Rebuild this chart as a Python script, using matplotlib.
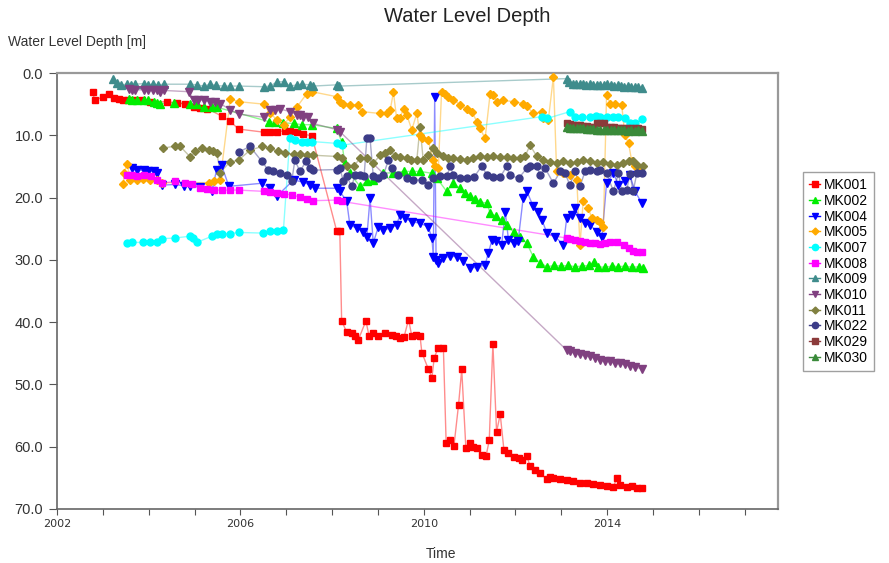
import matplotlib
matplotlib.use("Agg")
import matplotlib.pyplot as plt
from matplotlib.lines import Line2D

# ---------------- data (year, depth in m) ----------------
mk001_t = [2002.78, 2002.82, 2003.00, 2003.14, 2003.24, 2003.35, 2003.45, 2003.55, 2003.70, 2003.85,
           2004.03, 2004.40, 2004.62, 2004.79, 2004.98, 2005.12, 2005.27, 2005.59, 2005.77, 2005.96,
           2006.51, 2006.65, 2006.80, 2006.97, 2007.08, 2007.24, 2007.37, 2007.56, 2008.10, 2008.17,
           2008.21, 2008.32, 2008.43, 2008.50, 2008.57, 2008.74, 2008.81, 2008.90, 2009.01, 2009.16,
           2009.30, 2009.40, 2009.48, 2009.57, 2009.67, 2009.74, 2009.83, 2009.92, 2009.96, 2010.10,
           2010.18, 2010.23, 2010.32, 2010.43, 2010.49, 2010.58, 2010.66, 2010.76, 2010.83, 2010.92,
           2011.01, 2011.08, 2011.16, 2011.27, 2011.36, 2011.43, 2011.51, 2011.59, 2011.67, 2011.75,
           2011.85, 2011.96, 2012.07, 2012.14, 2012.25, 2012.32, 2012.43, 2012.54, 2012.69, 2012.76,
           2012.83, 2012.98, 2013.12, 2013.26, 2013.41, 2013.56, 2013.70, 2013.85, 2013.99, 2014.14,
           2014.21, 2014.28, 2014.43, 2014.54, 2014.65, 2014.76]
mk001_d = [3.1, 4.3, 3.9, 3.4, 4.0, 4.2, 4.3, 4.4, 4.3, 4.4,
           4.6, 4.6, 4.8, 5.0, 5.4, 5.6, 5.7, 6.9, 7.7, 9.0,
           9.5, 9.4, 9.4, 9.3, 9.3, 9.4, 9.8, 10.1, 25.3, 25.4,
           39.8, 41.6, 41.8, 42.2, 42.9, 39.8, 42.3, 41.7, 42.3, 41.7,
           42.1, 42.3, 42.6, 42.4, 39.6, 42.2, 42.1, 42.2, 44.9, 47.5,
           48.9, 45.7, 44.1, 44.2, 59.4, 58.9, 59.9, 53.3, 47.6, 60.2,
           59.4, 60.0, 60.2, 61.3, 61.5, 59.0, 43.5, 57.6, 54.8, 60.5,
           61.0, 61.6, 61.8, 62.1, 61.5, 63.1, 63.7, 64.3, 65.2, 64.9,
           65.1, 65.2, 65.4, 65.5, 65.9, 65.8, 66.0, 66.1, 66.3, 66.4,
           65.1, 66.1, 66.5, 66.3, 66.7, 66.7]

mk002_t = [2003.56, 2003.64, 2003.75, 2003.89, 2003.99, 2004.11, 2004.18, 2004.25, 2004.55, 2004.91,
           2005.05, 2005.20, 2005.38, 2005.49, 2006.62, 2006.76, 2006.93, 2007.16, 2007.34, 2007.56,
           2008.10, 2008.21, 2008.28, 2008.39, 2008.61, 2008.76, 2008.90, 2009.12, 2009.33, 2009.56,
           2009.75, 2009.92, 2010.18, 2010.29, 2010.50, 2010.65, 2010.79, 2010.90, 2011.01, 2011.12,
           2011.23, 2011.38, 2011.45, 2011.58, 2011.70, 2011.81, 2011.96, 2012.10, 2012.25, 2012.39,
           2012.54, 2012.69, 2012.85, 2013.00, 2013.15, 2013.30, 2013.45, 2013.60, 2013.72, 2013.80,
           2013.95, 2014.10, 2014.25, 2014.40, 2014.55, 2014.70, 2014.78]
mk002_d = [4.2, 4.4, 4.3, 4.3, 4.4, 4.6, 4.8, 4.9, 4.8, 4.9,
           5.0, 5.4, 5.4, 5.5, 7.8, 7.9, 8.0, 8.1, 8.3, 8.3,
           8.9, 11.0, 14.5, 16.1, 18.2, 17.4, 17.2, 16.1, 16.0, 15.8,
           15.8, 15.8, 16.1, 16.9, 19.0, 17.7, 18.5, 19.2, 19.8, 20.3,
           20.7, 20.9, 22.5, 23.0, 23.6, 24.4, 25.5, 26.3, 27.3, 29.5,
           30.5, 31.1, 30.9, 31.0, 30.9, 31.1, 31.0, 30.9, 30.3, 31.1,
           31.2, 31.0, 31.1, 31.0, 31.2, 31.1, 31.3]

mk004_t = [2003.64, 2003.75, 2003.89, 2003.99, 2004.11, 2004.18, 2004.29, 2004.57, 2004.76, 2004.91,
           2005.12, 2005.38, 2005.48, 2005.59, 2005.75, 2006.47, 2006.65, 2006.79, 2007.16, 2007.37,
           2007.52, 2007.63, 2008.10, 2008.17, 2008.32, 2008.39, 2008.54, 2008.68, 2008.76, 2008.83,
           2008.90, 2009.01, 2009.12, 2009.27, 2009.41, 2009.48, 2009.59, 2009.74, 2009.92, 2010.10,
           2010.18, 2010.21, 2010.24, 2010.27, 2010.32, 2010.43, 2010.58, 2010.72, 2010.86, 2011.01,
           2011.16, 2011.34, 2011.41, 2011.49, 2011.58, 2011.70, 2011.78, 2011.85, 2011.96, 2012.06,
           2012.17, 2012.25, 2012.39, 2012.50, 2012.58, 2012.69, 2012.87, 2013.05, 2013.12, 2013.23,
           2013.30, 2013.41, 2013.52, 2013.63, 2013.78, 2013.89, 2013.99, 2014.14, 2014.25, 2014.39,
           2014.50, 2014.61, 2014.76]
mk004_d = [15.3, 15.6, 15.6, 15.7, 15.8, 16.1, 18.0, 17.9, 18.1, 18.2,
           18.3, 19.0, 15.6, 14.8, 18.2, 17.7, 18.5, 19.8, 17.2, 17.5,
           18.0, 18.5, 18.5, 19.0, 20.6, 24.4, 24.9, 25.5, 26.3, 20.1,
           27.3, 24.7, 25.2, 24.9, 24.4, 22.8, 23.3, 23.9, 24.1, 24.7,
           26.5, 29.5, 3.9, 30.0, 30.5, 29.7, 29.4, 29.5, 30.2, 31.3,
           31.2, 30.8, 28.9, 26.8, 26.9, 27.6, 22.3, 26.8, 27.3, 27.0,
           20.1, 19.0, 21.4, 22.3, 23.6, 25.7, 26.3, 27.6, 23.3, 22.8,
           21.7, 23.3, 24.1, 24.4, 25.5, 26.3, 17.7, 16.1, 18.0, 17.4,
           16.4, 19.0, 20.9]

mk005_t = [2003.45, 2003.46, 2003.53, 2003.60, 2003.75, 2003.88, 2004.03, 2004.18, 2004.29, 2005.31,
           2005.42, 2005.56, 2005.78, 2005.96, 2006.51, 2006.65, 2006.80, 2006.95, 2007.09, 2007.24,
           2007.45, 2007.56, 2008.10, 2008.17, 2008.25, 2008.39, 2008.57, 2008.65, 2009.05, 2009.19,
           2009.27, 2009.34, 2009.41, 2009.48, 2009.56, 2009.63, 2009.74, 2009.85, 2009.92, 2009.96,
           2010.10, 2010.21, 2010.25, 2010.32, 2010.39, 2010.47, 2010.54, 2010.65, 2010.79, 2010.94,
           2011.05, 2011.16, 2011.23, 2011.34, 2011.45, 2011.52, 2011.59, 2011.74, 2011.96, 2012.17,
           2012.25, 2012.39, 2012.58, 2012.61, 2012.72, 2012.83, 2012.90, 2013.04, 2013.19, 2013.34,
           2013.41, 2013.48, 2013.59, 2013.67, 2013.78, 2013.85, 2013.92, 2013.99, 2014.07, 2014.18,
           2014.32, 2014.39, 2014.47, 2014.54, 2014.61, 2014.72]
mk005_d = [17.9, 16.1, 14.6, 17.2, 17.2, 17.0, 17.1, 17.2, 17.6, 17.6,
           17.4, 17.2, 4.2, 4.6, 5.0, 6.5, 7.5, 8.3, 7.0, 5.4,
           3.3, 3.0, 3.8, 4.6, 4.9, 5.1, 5.1, 6.2, 6.5, 6.5,
           5.9, 3.1, 7.3, 7.3, 5.7, 6.7, 9.1, 6.5, 10.0, 10.5,
           10.8, 14.0, 15.0, 15.3, 3.0, 3.3, 3.8, 4.3, 5.1, 5.8,
           6.2, 7.8, 8.9, 10.5, 3.3, 3.5, 4.6, 4.4, 4.6, 4.9,
           5.3, 6.5, 6.2, 7.3, 7.5, 0.6, 15.8, 16.0, 16.4, 17.2,
           27.6, 20.6, 21.7, 23.3, 23.6, 23.9, 24.7, 3.5, 4.9, 4.9,
           5.1, 10.0, 11.3, 14.2, 15.0, 15.8]

mk007_t = [2003.52, 2003.63, 2003.88, 2004.03, 2004.18, 2004.28, 2004.57, 2004.90, 2004.97, 2005.05,
           2005.38, 2005.48, 2005.59, 2005.77, 2005.96, 2006.49, 2006.65, 2006.79, 2006.94, 2007.08,
           2007.19, 2007.34, 2007.45, 2007.56, 2008.10, 2008.21, 2012.58, 2012.69, 2013.19, 2013.30,
           2013.46, 2013.63, 2013.76, 2013.85, 2014.00, 2014.14, 2014.25, 2014.39, 2014.50, 2014.61,
           2014.76]
mk007_d = [27.3, 27.2, 27.2, 27.2, 27.1, 26.6, 26.5, 26.2, 26.5, 27.2,
           26.2, 25.9, 25.8, 25.8, 25.6, 25.7, 25.3, 25.3, 25.2, 10.5,
           10.8, 11.0, 11.0, 11.0, 11.3, 11.6, 7.0, 7.3, 6.2, 7.0,
           7.1, 7.0, 6.9, 7.0, 7.1, 7.0, 7.0, 7.3, 8.1, 8.1,
           7.4]

mk008_t = [2003.53, 2003.64, 2003.75, 2003.89, 2004.04, 2004.18, 2004.29, 2004.58, 2004.79, 2004.95,
           2005.13, 2005.27, 2005.42, 2005.60, 2005.78, 2005.96, 2006.51, 2006.65, 2006.80, 2006.95,
           2007.13, 2007.30, 2007.45, 2007.59, 2008.10, 2008.21, 2013.12, 2013.19, 2013.30, 2013.41,
           2013.52, 2013.63, 2013.74, 2013.85, 2013.96, 2014.07, 2014.21, 2014.36, 2014.47, 2014.57,
           2014.66, 2014.76]
mk008_d = [16.4, 16.3, 16.5, 16.4, 16.6, 17.2, 17.7, 17.4, 17.6, 17.8,
           18.5, 18.6, 18.8, 18.8, 18.8, 18.8, 19.0, 19.1, 19.3, 19.4,
           19.6, 19.9, 20.2, 20.5, 20.4, 20.6, 26.5, 26.7, 26.8, 26.9,
           27.1, 27.3, 27.3, 27.4, 27.3, 27.2, 27.1, 27.6, 28.1, 28.5,
           28.7, 28.8]

mk009_t = [2003.22, 2003.31, 2003.40, 2003.53, 2003.61, 2003.71, 2003.89, 2003.99, 2004.09, 2004.20,
           2004.33, 2004.91, 2005.05, 2005.20, 2005.34, 2005.47, 2005.64, 2005.78, 2005.96, 2006.51,
           2006.65, 2006.80, 2006.95, 2007.09, 2007.24, 2007.34, 2007.52, 2007.59, 2008.10, 2008.16,
           2013.12, 2013.18, 2013.25, 2013.32, 2013.40, 2013.47, 2013.55, 2013.62, 2013.70, 2013.78,
           2013.85, 2013.93, 2014.00, 2014.08, 2014.15, 2014.23, 2014.30, 2014.38, 2014.45, 2014.53,
           2014.60, 2014.68, 2014.76]
mk009_d = [1.0, 1.6, 1.9, 1.8, 1.9, 1.8, 1.7, 1.9, 1.8, 1.9,
           1.8, 1.8, 1.9, 2.1, 1.8, 2.0, 2.1, 2.1, 2.1, 2.2,
           2.1, 1.4, 1.4, 2.1, 1.9, 1.8, 1.9, 2.1, 1.9, 2.1,
           0.9, 1.5, 1.7, 1.8, 1.7, 1.8, 1.9, 1.8, 1.9, 2.0,
           1.9, 2.0, 1.7, 2.0, 2.1, 2.0, 2.1, 2.2, 2.1, 2.2,
           2.3, 2.2, 2.4]

mk010_t = [2003.56, 2003.64, 2003.71, 2003.89, 2003.99, 2004.09, 2004.18, 2004.25, 2004.33, 2004.87,
           2004.98, 2005.08, 2005.20, 2005.34, 2005.45, 2005.56, 2005.78, 2005.96, 2006.51, 2006.65,
           2006.76, 2006.87, 2007.09, 2007.24, 2007.30, 2007.37, 2007.48, 2007.59, 2008.10, 2008.17,
           2013.12, 2013.19, 2013.30, 2013.41, 2013.52, 2013.63, 2013.74, 2013.85, 2013.96, 2014.07,
           2014.18, 2014.28, 2014.39, 2014.50, 2014.61, 2014.76]
mk010_d = [2.6, 2.8, 2.7, 2.7, 2.8, 2.8, 2.8, 3.0, 2.8, 3.0,
           4.3, 4.4, 4.3, 4.6, 4.7, 4.9, 5.9, 6.6, 7.1, 5.9,
           5.9, 5.8, 6.2, 6.7, 6.7, 7.0, 7.0, 8.1, 9.1, 9.4,
           44.5, 44.7, 44.9, 45.1, 45.3, 45.5, 45.8, 46.0, 46.2, 46.3,
           46.5, 46.6, 46.8, 47.0, 47.2, 47.5]

mk011_t = [2004.31, 2004.58, 2004.69, 2004.91, 2005.02, 2005.16, 2005.31, 2005.40, 2005.49, 2005.56,
           2005.77, 2005.96, 2006.21, 2006.47, 2006.65, 2006.83, 2006.97, 2007.16, 2007.30, 2007.45,
           2007.59, 2008.10, 2008.21, 2008.32, 2008.47, 2008.61, 2008.76, 2008.90, 2009.05, 2009.16,
           2009.27, 2009.38, 2009.48, 2009.63, 2009.72, 2009.85, 2009.92, 2009.99, 2010.10, 2010.21,
           2010.29, 2010.43, 2010.53, 2010.65, 2010.79, 2010.94, 2011.08, 2011.23, 2011.38, 2011.52,
           2011.67, 2011.81, 2011.95, 2012.10, 2012.21, 2012.32, 2012.47, 2012.60, 2012.76, 2012.91,
           2013.04, 2013.19, 2013.35, 2013.48, 2013.63, 2013.78, 2013.91, 2014.07, 2014.22, 2014.35,
           2014.48, 2014.57, 2014.66, 2014.79]
mk011_d = [12.1, 11.7, 11.8, 13.5, 12.6, 12.1, 12.4, 12.6, 12.9, 16.0,
           14.3, 14.0, 12.4, 11.8, 12.1, 12.6, 12.9, 13.0, 13.0, 13.2,
           13.2, 13.4, 13.7, 15.0, 15.0, 13.7, 13.7, 14.5, 13.2, 12.9,
           12.4, 13.4, 13.5, 13.7, 13.9, 14.0, 8.6, 14.0, 13.2, 12.1,
           12.9, 13.4, 13.6, 13.7, 13.8, 13.9, 13.6, 13.4, 13.5, 13.4,
           13.5, 13.5, 13.6, 13.7, 13.4, 11.6, 13.4, 14.0, 14.3, 14.4,
           14.2, 14.5, 14.3, 14.0, 14.2, 14.4, 14.3, 14.6, 14.7, 14.5,
           14.2, 14.2, 14.8, 15.0]

mk022_t = [2005.96, 2006.21, 2006.47, 2006.61, 2006.72, 2006.87, 2007.01, 2007.12, 2007.19, 2007.30,
           2007.43, 2007.52, 2007.59, 2008.10, 2008.17, 2008.25, 2008.32, 2008.43, 2008.50, 2008.61,
           2008.70, 2008.76, 2008.83, 2008.90, 2009.00, 2009.12, 2009.23, 2009.30, 2009.45, 2009.63,
           2009.77, 2009.96, 2010.10, 2010.21, 2010.36, 2010.50, 2010.58, 2010.65, 2010.79, 2010.94,
           2011.10, 2011.27, 2011.38, 2011.52, 2011.67, 2011.81, 2011.88, 2012.07, 2012.25, 2012.32,
           2012.47, 2012.54, 2012.65, 2012.83, 2012.98, 2013.08, 2013.19, 2013.30, 2013.41, 2013.52,
           2013.63, 2013.78, 2013.85, 2013.99, 2014.14, 2014.25, 2014.32, 2014.43, 2014.50, 2014.57,
           2014.65, 2014.76]
mk022_d = [12.7, 11.8, 14.2, 15.6, 15.8, 16.1, 16.4, 17.4, 14.0, 15.8,
           14.2, 15.3, 15.6, 15.5, 15.3, 17.4, 16.6, 18.2, 16.4, 16.4,
           16.6, 10.5, 10.5, 16.6, 16.9, 16.4, 14.0, 15.3, 16.4, 16.8,
           17.2, 17.2, 18.0, 16.9, 16.6, 16.6, 15.0, 16.4, 16.9, 16.9,
           16.7, 14.9, 16.4, 16.7, 16.7, 15.0, 16.4, 16.9, 15.3, 14.9,
           15.0, 16.4, 15.3, 17.7, 15.8, 16.0, 18.0, 15.8, 18.2, 15.8,
           15.6, 15.7, 15.6, 16.1, 19.0, 16.1, 19.0, 18.8, 16.2, 19.0,
           16.1, 16.1]

mk029_t = [2013.12, 2013.19, 2013.26, 2013.34, 2013.41, 2013.48, 2013.56, 2013.63, 2013.70, 2013.78,
           2013.85, 2013.93, 2014.00, 2014.08, 2014.15, 2014.23, 2014.30, 2014.38, 2014.45, 2014.53,
           2014.60, 2014.68, 2014.76]
mk029_d = [8.1, 8.2, 8.3, 8.4, 8.4, 8.5, 8.5, 8.6, 8.6, 8.1,
           8.0, 8.1, 8.6, 8.7, 8.7, 8.8, 8.8, 8.9, 8.9, 8.8,
           8.9, 8.9, 9.0]

mk030_t = [2013.12, 2013.19, 2013.26, 2013.34, 2013.41, 2013.48, 2013.56, 2013.63, 2013.70, 2013.78,
           2013.85, 2013.93, 2014.00, 2014.08, 2014.15, 2014.23, 2014.30, 2014.38, 2014.45, 2014.53,
           2014.60, 2014.68, 2014.76]
mk030_d = [8.6, 8.8, 8.8, 8.9, 8.9, 8.9, 9.0, 9.0, 9.0, 9.1,
           9.1, 9.1, 9.1, 9.2, 9.2, 9.2, 9.2, 9.2, 9.3, 9.2,
           9.3, 9.2, 9.3]

series_names = ["MK001", "MK002", "MK004", "MK005", "MK007", "MK008",
                "MK009", "MK010", "MK011", "MK022", "MK029", "MK030"]
x_ticks = [2002, 2006, 2010, 2014]
y_ticks = [0, 10, 20, 30, 40, 50, 60, 70]

# ---------------- styling ----------------
series = [
    (mk001_t, mk001_d, "#FF0000", "s", 5.0),
    (mk002_t, mk002_d, "#00EE00", "^", 5.5),
    (mk004_t, mk004_d, "#0000FF", "v", 5.5),
    (mk005_t, mk005_d, "#FFAA00", "D", 4.0),
    (mk007_t, mk007_d, "#00FFFF", "o", 5.0),
    (mk008_t, mk008_d, "#FF00FF", "s", 5.0),
    (mk009_t, mk009_d, "#3F8C8C", "^", 5.5),
    (mk010_t, mk010_d, "#804080", "v", 5.5),
    (mk011_t, mk011_d, "#808040", "D", 4.0),
    (mk022_t, mk022_d, "#3C3C88", "o", 5.0),
    (mk029_t, mk029_d, "#8B3A3A", "s", 5.0),
    (mk030_t, mk030_d, "#3A8A3A", "^", 5.5),
]

fig = plt.figure(figsize=(8.89, 5.63), dpi=100)
ax = fig.add_axes([57 / 889, 1 - 509 / 563, (778 - 57) / 889, (509 - 73) / 563])

handles = []
for name, (t, d, c, m, ms) in zip(series_names, series):
    ax.plot(t, d, "-", color=c, alpha=0.45, lw=1.0, zorder=2)
    ax.plot(t, d, linestyle="none", marker=m, color=c, ms=ms, mec=c, zorder=3)
    handles.append(Line2D([0], [0], color=c, marker=m, ms=ms - 0.5, lw=1.0))

ax.set_xlim(2002, 2017.73)
ax.set_ylim(70, 0)
ax.set_xticks(x_ticks)
ax.set_xticks(list(range(2002, 2018)), minor=True)
ax.set_xticklabels([str(v) for v in x_ticks], fontsize=8,
                   family=["Liberation Sans Narrow", "DejaVu Sans"])
ax.set_yticks(y_ticks)
ax.set_yticklabels([f"{v:.1f}" for v in y_ticks], fontsize=10.5,
                   family=["Liberation Sans", "DejaVu Sans"])
ax.tick_params(axis="x", which="both", direction="out", length=4, width=0.8, color="#555555", pad=3)
ax.tick_params(axis="y", which="both", direction="out", length=6, width=0.8, color="#555555", pad=4)
ax.tick_params(axis="y", labelcolor="#333333")
ax.tick_params(axis="x", labelcolor="#333333")

for side in ["left", "bottom"]:
    ax.spines[side].set_color("#666666")
    ax.spines[side].set_linewidth(1.2)
for side in ["top", "right"]:
    ax.spines[side].set_color("#999999")
    ax.spines[side].set_linewidth(1.6)

fig.text(467 / 889, 1 - 17 / 563, "Water Level Depth", ha="center", va="center",
         fontsize=14.5, family=["Liberation Sans", "DejaVu Sans"], color="#222222")
fig.text(8 / 889, 1 - 42 / 563, "Water Level Depth [m]", ha="left", va="center",
         fontsize=10, family=["Liberation Sans", "DejaVu Sans"], color="#333333")
fig.text(441 / 889, 1 - 554 / 563, "Time", ha="center", va="center",
         fontsize=10, family=["Liberation Sans", "DejaVu Sans"], color="#333333")

leg = fig.legend(handles, series_names, loc="upper left",
                 bbox_to_anchor=(803 / 889, 1 - 172 / 563),
                 prop={"family": ["Liberation Sans", "DejaVu Sans"], "size": 10},
                 handlelength=0.8, handletextpad=0.25, labelspacing=0.12,
                 borderpad=0.45, frameon=True, fancybox=False, shadow=False,
                 borderaxespad=0)
leg.get_frame().set_edgecolor("#888888")
leg.get_frame().set_linewidth(1.0)

fig.savefig("out.png", dpi=100)
